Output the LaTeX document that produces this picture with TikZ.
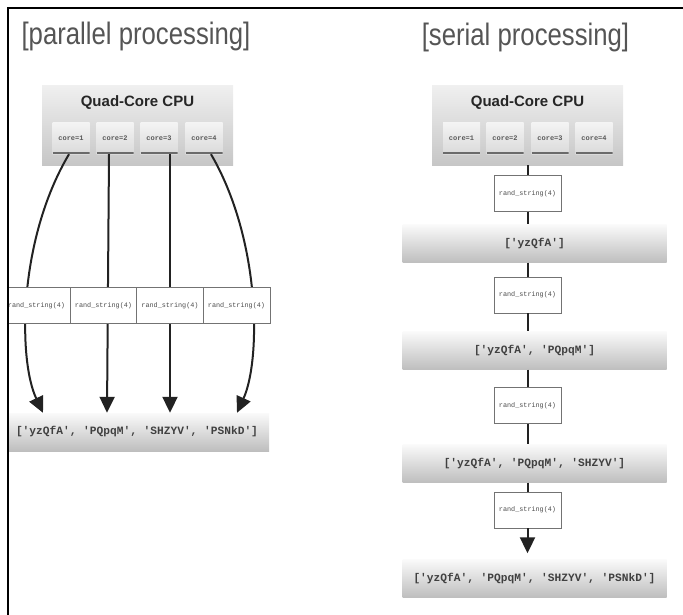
\documentclass[tikz,border=0pt]{standalone}
\usepackage{fontspec}
\setmainfont{Liberation Sans}
\setmonofont{Liberation Mono}
\newfontfamily\titlefont[FakeStretch=0.83]{Liberation Sans}
\usetikzlibrary{arrows.meta}
\definecolor{titlegray}{HTML}{555555}
\definecolor{wirecol}{HTML}{222222}
\definecolor{cputop}{HTML}{F0F0F0}
\definecolor{cpubot}{HTML}{C6C6C6}
\definecolor{listtop}{HTML}{FAFAFA}
\definecolor{listbot}{HTML}{BEBEBE}
\definecolor{coretop}{HTML}{F4F4F4}
\definecolor{corebot}{HTML}{DADADA}
\definecolor{corebar}{HTML}{6A6A6A}

\begin{document}
\begin{tikzpicture}[x=1pt, y=-1pt,
  heading/.style={text=titlegray, font=\titlefont\fontsize{31}{31}\selectfont},
  cpu/.style={top color=cputop, bottom color=cpubot, minimum width=191pt, minimum height=80pt, inner sep=0pt},
  cpulabel/.style={font=\bfseries\fontsize{15}{15}\selectfont, text=black!85},
  core/.style={top color=coretop, bottom color=corebot, minimum width=37pt, minimum height=32pt, inner sep=0pt,
    font=\ttfamily\bfseries\fontsize{7}{7}\selectfont, text=black!65,
    path picture={\draw[corebar, line width=2pt] ([yshift=1pt]path picture bounding box.south west) -- ([yshift=1pt]path picture bounding box.south east);}},
  job/.style={draw=black!55, fill=white, line width=0.6pt, minimum width=67pt, minimum height=36pt, inner sep=0pt,
    font=\ttfamily\fontsize{6.8}{6.8}\selectfont, text=black!70},
  result/.style={top color=listtop, bottom color=listbot, minimum width=264pt, minimum height=38pt, inner sep=0pt,
    font=\ttfamily\bfseries\fontsize{11.2}{11.2}\selectfont, text=black!75},
  wire/.style={draw=wirecol, line width=2pt},
  arrowtip/.style={-{Triangle[length=16pt, width=15pt]}}
]
  \useasboundingbox (0,0) rectangle (683,614);

  \begin{scope}
  \clip (9,0) rectangle (683,614);
  % parallel
  \node[heading] (tP) at (136,36) {[parallel processing]};
  \node[cpu] (cpuP) at (137.5,125) {};
  \node[cpulabel] (qP) at (137.5,103) {Quad-Core CPU};
  \foreach \i/\x in {1/71, 2/115, 3/159, 4/204}
    \node[core] (cP\i) at (\x,138) {core=\i};
  \node[result] (lP) at (137,432) {['yzQfA', 'PQpqM', 'SHZYV', 'PSNkD']};
  \draw[wire, arrowtip] ([xshift=-2pt]cP1.south) .. controls (18,240) and (18,360) .. ([xshift=-94pt]lP.north);
  \draw[wire, arrowtip] ([xshift=-6pt]cP2.south) -- ([xshift=-30pt]lP.north);
  \draw[wire, arrowtip] ([xshift=11pt]cP3.south) -- ([xshift=33pt]lP.north);
  \draw[wire, arrowtip] ([xshift=7pt]cP4.south) .. controls (261,240) and (261,360) .. ([xshift=100pt]lP.north);
  \foreach \i/\x in {1/36.5, 2/103.5, 3/170, 4/236.5}
    \node[job] (rP\i) at (\x,305.5) {rand\_string(4)};
  \end{scope}

  % serial
  \node[heading] (tS) at (525.5,37) {[serial processing]};
  \node[cpu] (cpuS) at (527.5,125) {};
  \node[cpulabel] (qS) at (527.5,103) {Quad-Core CPU};
  \foreach \i/\x in {1/461.5, 2/505, 3/550, 4/594}
    \node[core] (cS\i) at (\x,138) {core=\i};
  \node[job] (rS1) at (527.5,193.5) {rand\_string(4)};
  \node[result] (lS1) at (534.5,243.5) {['yzQfA']};
  \node[job] (rS2) at (527.5,295) {rand\_string(4)};
  \node[result] (lS2) at (534.5,350.5) {['yzQfA', 'PQpqM']};
  \node[job] (rS3) at (527.5,405.5) {rand\_string(4)};
  \node[result] (lS3) at (534.5,463.5) {['yzQfA', 'PQpqM', 'SHZYV']};
  \node[job] (rS4) at (527.5,510) {rand\_string(4)};
  \node[result] (lS4) at (534.5,578.5) {['yzQfA', 'PQpqM', 'SHZYV', 'PSNkD']};
  \draw[wire] (cpuS) -- (rS1);
  \draw[wire] (rS1.south) -- (rS1.south |- lS1.north);
  \draw[wire] (lS1.south -| rS2) -- (rS2.north);
  \draw[wire] (rS2.south) -- (rS2.south |- lS2.north);
  \draw[wire] (lS2.south -| rS3) -- (rS3.north);
  \draw[wire] (rS3.south) -- (rS3.south |- lS3.north);
  \draw[wire] (lS3.south -| rS4) -- (rS4.north);
  \draw[wire, arrowtip, shorten >=6pt] (rS4.south) -- (rS4.south |- lS4.north);

  % frame
  \draw[line width=2.5pt, line cap=rect] (683,8) -- (8,8) -- (8,614);
\end{tikzpicture}
\end{document}
